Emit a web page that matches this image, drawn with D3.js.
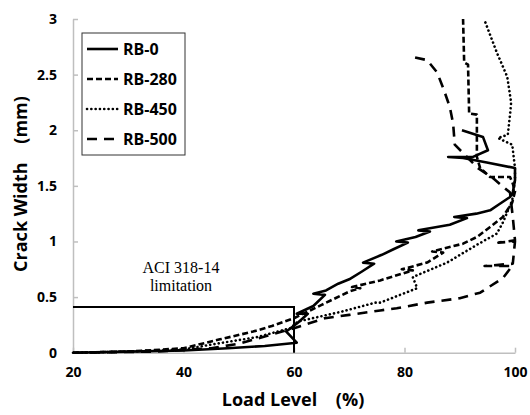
<!DOCTYPE html>
<meta charset="utf-8">
<head>
	<title>Crack width vs load level</title>
</head>

<style>

body{
	margin: 0;
	background-color: #fff;
}

svg{
	display: block;
}

.axis path, .axis line{
	stroke: #bfbfbf;
	stroke-width: 1.5px;
}

.axis text{
	font-family: "Open Sans", sans-serif;
	font-weight: bold;
	font-size: 14px;
	fill: #000;
}

.series{
	fill: none;
	stroke: #000;
	stroke-width: 2.6px;
}

</style>

<body>

<svg width="530" height="415"></svg>

<script src="https://cdnjs.cloudflare.com/ajax/libs/d3/7.8.5/d3.min.js"></script>
<script>

// [load level %, crack width mm]
var rb0 = [
	[20,0],[30,0.01],[40,0.02],[48,0.04],[54.7,0.06],[60.5,0.09],[58.6,0.19],[60.7,0.27],
	[62.5,0.35],[60.5,0.35],[63.5,0.42],[65.6,0.52],[63.5,0.53],[65.8,0.56],[68,0.62],
	[70,0.66],[72.3,0.73],[74.5,0.8],[72.5,0.81],[75.9,0.88],[78,0.93],[80.6,0.99],
	[78.5,1.0],[82,1.04],[84.6,1.09],[82.5,1.1],[88.2,1.15],[91.3,1.21],[89,1.22],
	[93,1.25],[95.5,1.28],[97,1.33],[99.1,1.4],[99.6,1.44],[100,1.55],[100,1.66],
	[94.9,1.71],[90.6,1.75],[87.9,1.76],[92.4,1.76],[95.1,1.82],[94.2,1.94],[90.4,2.0]
];

var rb280 = [
	[20,0],[30,0.01],[40,0.04],[46.6,0.12],[52.6,0.19],[56,0.24],[60,0.31],[65,0.43],
	[70,0.55],[72,0.58],[70.5,0.59],[75.6,0.65],[81.5,0.74],[79.5,0.75],[84.1,0.81],
	[87,0.9],[85,0.91],[90.6,0.98],[93.1,1.04],[95.5,1.13],[97.8,1.22],[99.5,1.35],
	[100,1.45],[99.6,1.52],[99.1,1.58],[95.5,1.58],[93.7,1.66],[93.1,1.76],[93.1,1.93],
	[93.1,2.14],[91.7,2.15],[91.5,2.59],[90.8,2.61],[90.6,3.0]
];

var rb450 = [
	[20,0],[30,0.01],[40,0.03],[47.1,0.09],[53.3,0.14],[59.3,0.22],[60.7,0.28],[68.7,0.37],
	[74.7,0.45],[75.6,0.45],[79.2,0.52],[82.3,0.58],[81.5,0.68],[87.7,0.81],[93.1,0.97],
	[96.7,1.07],[97.8,1.17],[99.5,1.37],[100,1.55],[100,1.66],[99.5,1.87],[96.9,1.93],
	[98.7,1.96],[99.1,2.14],[99.3,2.25],[98.6,2.48],[96.7,2.7],[94.4,3.0]
];

var rb500 = [
	[20,0],[35,0.01],[45,0.04],[50,0.08],[55,0.15],[60,0.22],[65.6,0.31],[70,0.34],
	[75.6,0.38],[78.6,0.4],[84.1,0.45],[90,0.49],[93.7,0.54],[97.8,0.67],[99.5,0.78],
	[94.5,0.78],[99.6,0.8],[100,1.0],[97,0.99],[100,1.01],[99.6,1.22],[99.1,1.44],
	[96,1.57],[93.3,1.66],[89.1,1.87],[88.8,2.06],[88.2,2.21],[87,2.38],[85.9,2.52],
	[84.1,2.63],[81.4,2.66]
];

var seriesNames = ['RB-0', 'RB-280', 'RB-450', 'RB-500'];
var seriesDash = ['none', '6,3', '0.1,4.2', '10,7'];
var seriesCap = ['butt', 'butt', 'round', 'butt'];
var seriesData = [rb0, rb280, rb450, rb500];

// ACI 318-14 limit box
var aciLimit = [[20,0.41],[60,0.41],[60,0]];

var xTicks = [20, 40, 60, 80, 100];
var yTicks = [0, 0.5, 1, 1.5, 2, 2.5, 3];

var svg = d3.select('svg');

var x = d3.scaleLinear().domain([20, 100]).range([73, 515]);
var y = d3.scaleLinear().domain([0, 3]).range([352.7, 19]);

svg.append('g')
	.attr('class', 'axis')
	.attr('transform', 'translate(0,352.7)')
	.call(d3.axisBottom(x).tickValues(xTicks).tickSizeInner(-5).tickSizeOuter(0).tickPadding(14).tickFormat(d3.format('d')));

svg.append('g')
	.attr('class', 'axis')
	.attr('transform', 'translate(73,0)')
	.call(d3.axisLeft(y).tickValues(yTicks).tickSizeInner(-5).tickSizeOuter(0).tickPadding(16).tickFormat(function(d){ return d; }));

var line = d3.line()
	.x(function(d){ return x(d[0]); })
	.y(function(d){ return y(d[1]); });

svg.append('path')
	.datum(aciLimit)
	.attr('d', line)
	.attr('fill', 'none')
	.attr('stroke', '#000')
	.attr('stroke-width', 2);

svg.selectAll('.series')
	.data(seriesData)
	.enter()
	.append('path')
	.attr('class', 'series')
	.attr('d', line)
	.attr('stroke-dasharray', function(d, i){ return seriesDash[i]; })
	.attr('stroke-linecap', function(d, i){ return seriesCap[i]; })
	.attr('stroke-linejoin', 'round');

// ACI label
var aci = svg.append('text')
	.attr('x', 181)
	.attr('y', 273)
	.attr('text-anchor', 'middle')
	.style('font-family', '"Liberation Serif", serif')
	.style('font-size', '16px');
aci.append('tspan').attr('x', 181).text('ACI 318-14');
aci.append('tspan').attr('x', 181).attr('dy', 18).text('limitation');

// axis titles
svg.append('text')
	.attr('x', 293)
	.attr('y', 406)
	.attr('text-anchor', 'middle')
	.style('font-family', '"Open Sans", sans-serif')
	.style('font-weight', 'bold')
	.style('font-size', '18px')
	.style('white-space', 'pre')
	.text('Load Level    (%)');

svg.append('text')
	.attr('transform', 'translate(27,184) rotate(-90)')
	.attr('text-anchor', 'middle')
	.style('font-family', '"Open Sans", sans-serif')
	.style('font-weight', 'bold')
	.style('font-size', '18px')
	.style('white-space', 'pre')
	.text('Crack Width    (mm)');

// legend
var legend = svg.append('g').attr('transform', 'translate(82,33)');

legend.append('rect')
	.attr('width', 103)
	.attr('height', 122)
	.attr('fill', '#fff')
	.attr('stroke', '#333')
	.attr('stroke-width', 1);

var item = legend.selectAll('.item')
	.data(seriesNames)
	.enter()
	.append('g')
	.attr('class', 'item')
	.attr('transform', function(d, i){ return 'translate(0,' + (16 + i*30) + ')'; });

item.append('line')
	.attr('x1', 5)
	.attr('x2', 36)
	.attr('stroke', '#000')
	.attr('stroke-width', 2.6)
	.attr('stroke-dasharray', function(d, i){ return seriesDash[i]; })
	.attr('stroke-linecap', function(d, i){ return seriesCap[i]; });

item.append('text')
	.attr('x', 41)
	.attr('y', 6)
	.style('font-family', '"Open Sans", sans-serif')
	.style('font-weight', 'bold')
	.style('font-size', '16px')
	.text(function(d){ return d; });

</script>

</body>
</html>
